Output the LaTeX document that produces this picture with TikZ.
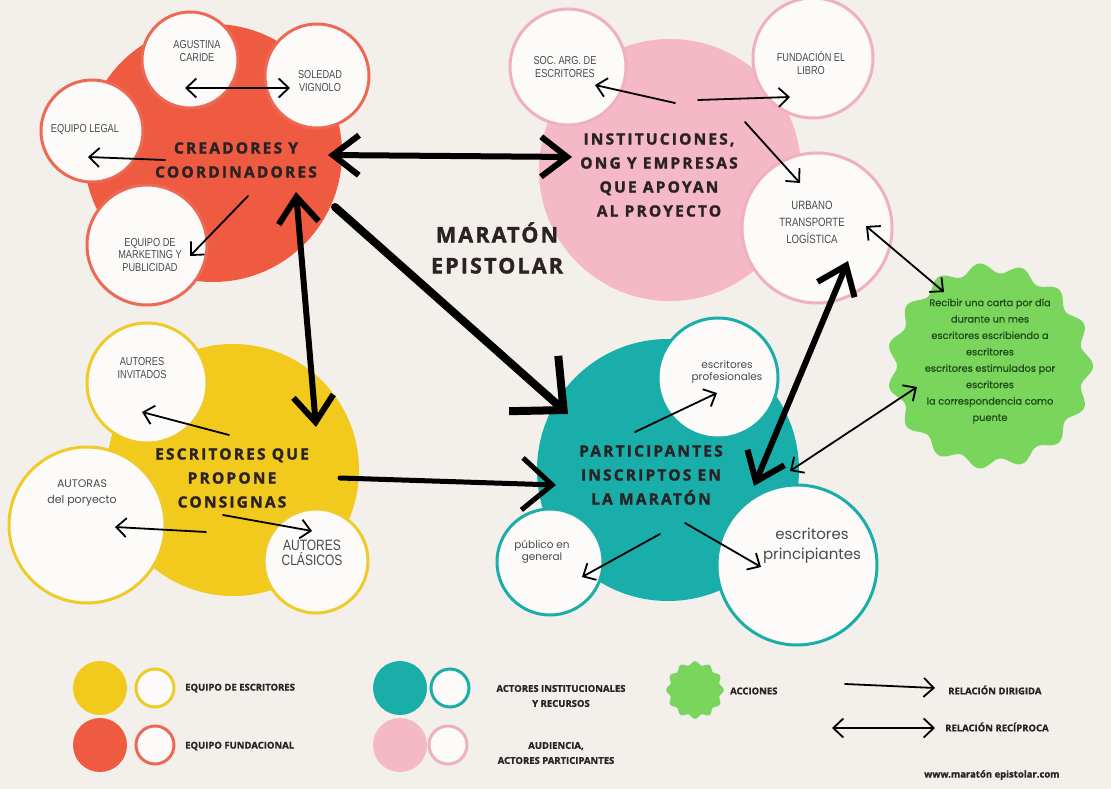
\documentclass[tikz,border=0pt]{standalone}
\usepackage{fontspec}
\usetikzlibrary{arrows.meta}
\setmainfont{Open Sans}
\newfontfamily\ttlfont[LetterSpace=14, BoldFeatures={FakeBold=1.6}]{Open Sans}
\newfontfamily\bigttl[LetterSpace=10, BoldFeatures={FakeBold=1.6}]{Open Sans}
\newfontfamily\smallfont[FakeStretch=0.8]{Liberation Sans}
\newfontfamily\roundfont{Poppins}
\newfontfamily\greenfont[FakeBold=0.5]{Poppins}
\newfontfamily\lgfont[BoldFeatures={FakeBold=1.2}]{Open Sans}
\definecolor{bg}{HTML}{F3EFEA}
\definecolor{cred}{HTML}{EE5B41}
\definecolor{credl}{HTML}{EC6A55}
\definecolor{cpink}{HTML}{F5B8C6}
\definecolor{cpinkl}{HTML}{EFB0C0}
\definecolor{cyel}{HTML}{F2CA1E}
\definecolor{cyell}{HTML}{EFCB2A}
\definecolor{cteal}{HTML}{19AEA9}
\definecolor{ctealy}{HTML}{1BADA8}
\definecolor{cgreen}{HTML}{79D55B}
\definecolor{wfill}{HTML}{FCFBFA}
\definecolor{ttl}{HTML}{2A2224}
\definecolor{grey}{HTML}{4A4A4A}
\definecolor{dgreen}{HTML}{1E4A1A}
\tikzset{
  big/.style={circle, inner sep=0pt},
  sc/.style={circle, draw, line width=3pt, fill=wfill, inner sep=0pt},
  thin/.style={line width=1.8pt, line cap=round, -{Straight Barb[length=10pt,width=19pt]}},
  thinboth/.style={line width=1.8pt, line cap=round, {Straight Barb[length=10pt,width=19pt]}-{Straight Barb[length=10pt,width=19pt]}},
  thickboth/.style={line width=6pt, line cap=round, {Straight Barb[length=26pt,width=40pt]}-{Straight Barb[length=26pt,width=40pt]}},
  ttlnode/.style={align=center, inner sep=0pt, text=ttl, font=\ttlfont\bfseries\fontsize{15.5}{24}\selectfont},
  sm/.style={align=center, inner sep=0pt, text=grey, font=\smallfont\fontsize{11.5}{12.5}\selectfont},
  rd/.style={align=center, inner sep=0pt, text=grey, font=\roundfont\fontsize{10.5}{12}\selectfont},
  lg/.style={align=center, inner sep=0pt, text=ttl, font=\lgfont\bfseries\fontsize{9.5}{15}\selectfont},
}
\begin{document}
\begin{tikzpicture}[x=1pt,y=-1pt]
\useasboundingbox (0,0) rectangle (1111,789);
\fill[bg] (0,0) rectangle (1111,789);

% big circles
\node[big, fill=cred, minimum size=258pt] (crea) at (213,153) {};
\node[big, fill=cpink, minimum size=262pt] (inst) at (670,170) {};
\node[big, fill=cyel, minimum size=252pt] (escr) at (233,470) {};
\node[big, fill=cteal, minimum size=262pt] (part) at (668,470) {};

% small circles
\node[sc, draw=credl, minimum size=96pt] (agus) at (190,60) {};
\node[sc, draw=credl, minimum size=104pt] (sole) at (317,76) {};
\node[sc, draw=credl, minimum size=102pt] (legal) at (92,131) {};
\node[sc, draw=credl, minimum size=120pt] (mkt) at (147,245) {};
\node[sc, draw=cpinkl, minimum size=116pt] (soc) at (568,67) {};
\node[sc, draw=cpinkl, minimum size=120pt] (fund) at (813,58) {};
\node[sc, draw=cpinkl, minimum size=150pt] (urb) at (817,228) {};
\node[sc, draw=cyell, minimum size=120pt] (inv) at (147,383) {};
\node[sc, draw=cyell, minimum size=156pt] (autoras) at (87,525) {};
\node[sc, draw=cyell, minimum size=104pt] (clas) at (316,561) {};
\node[sc, draw=ctealy, minimum size=120pt] (prof) at (718,378) {};
\node[sc, draw=ctealy, minimum size=106pt] (pub) at (550,562) {};
\node[sc, draw=ctealy, minimum size=160pt] (princ) at (797,565) {};

% green blob
\fill[cgreen] plot[domain=0:360, samples=240, smooth] ({990+(98+5*cos(15*\x))*cos(\x)}, {366+(98+5*cos(15*\x))*sin(\x)}) -- cycle;
\node[align=center, inner sep=0pt, text=dgreen, font=\greenfont\fontsize{9.8}{16.4}\selectfont] (acc) at (990,361)
 {Recibir una carta por día\\durante un mes\\escritores escribiendo a\\escritores\\escritores estimulados por\\escritores\\la correspondencia como\\puente};

% small texts
\node[sm] (tagus) at (197,51) {AGUSTINA\\CARIDE};
\node[sm] (tsole) at (320,81) {SOLEDAD\\VIGNOLO};
\node[sm] (tlegal) at (85,130) {EQUIPO LEGAL};
\node[sm] (tmkt) at (150,255) {EQUIPO DE\\MARKETING Y\\PUBLICIDAD};
\node[sm] (tsoc) at (565,67) {SOC. ARG. DE\\ESCRITORES};
\node[sm] (tfund) at (811,63) {FUNDACIÓN EL\\LIBRO};
\node[sm, font=\smallfont\fontsize{12}{17}\selectfont] (turb) at (812,222) {URBANO\\TRANSPORTE\\LOGÍSTICA};
\node[sm] (tinv) at (142,368) {AUTORES\\INVITADOS};
\node[rd, font=\roundfont\fontsize{11}{16}\selectfont] (tautoras) at (82,493) {AUTORAS\\del poryecto};
\node[sm, font=\smallfont\fontsize{15}{15}\selectfont] (tclas) at (312,553) {AUTORES\\CLÁSICOS};
\node[rd] (tprof) at (727,372) {escritores\\profesionales};
\node[rd] (tpub) at (542,552) {público en\\general};
\node[rd, font=\roundfont\fontsize{15}{20}\selectfont] (tprinc) at (812,546) {escritores\\principiantes};

% thin arrows
\coordinate (a1) at (185,88); \coordinate (a2) at (290,88);
\draw[thinboth] (a1) -- (a2);
\coordinate (b1) at (165,160); \coordinate (b2) at (88,157);
\draw[thin] (b1) -- (b2);
\coordinate (c1) at (248,196); \coordinate (c2) at (190,256);
\draw[thin] (c1) -- (c2);
\coordinate (d1) at (675,103); \coordinate (d2) at (595,85);
\draw[thin] (d1) -- (d2);
\coordinate (e1) at (698,100); \coordinate (e2) at (790,97);
\draw[thin] (e1) -- (e2);
\coordinate (f1) at (745,122); \coordinate (f2) at (800,183);
\draw[thin] (f1) -- (f2);
\coordinate (g1) at (866,226); \coordinate (g2) at (944,292);
\draw[thinboth] (g1) -- (g2);
\coordinate (h1) at (790,471); \coordinate (h2) at (917,387);
\draw[thinboth] (h1) -- (h2);
\coordinate (i1) at (229,435); \coordinate (i2) at (142,412);
\draw[thin] (i1) -- (i2);
\coordinate (j1) at (206,532); \coordinate (j2) at (115,527);
\draw[thin] (j1) -- (j2);
\coordinate (k1) at (223,515); \coordinate (k2) at (312,531);
\draw[thin] (k1) -- (k2);
\coordinate (l1) at (635,432); \coordinate (l2) at (717,393);
\draw[thin] (l1) -- (l2);
\coordinate (m1) at (660,534); \coordinate (m2) at (582,577);
\draw[thin] (m1) -- (m2);
\coordinate (n1) at (685,523); \coordinate (n2) at (761,567);
\draw[thin] (n1) -- (n2);

% thick arrows
\coordinate (A1) at (328,155); \coordinate (A2) at (572,157);
\draw[thickboth] (A1) -- (A2);
\coordinate (B1) at (296,192); \coordinate (B2) at (316,427);
\draw[thickboth] (B1) -- (B2);
\coordinate (C1) at (335,207); \coordinate (C2) at (568,414);
\draw[line width=8pt, line cap=round, -{Straight Barb[length=40pt,width=74pt]}] (C1) -- (C2);
\coordinate (D1) at (340,478); \coordinate (D2) at (556,485);
\draw[line width=5pt, line cap=round, -{Straight Barb[length=30pt,width=52pt]}] (D1) -- (D2);
\coordinate (E1) at (848,261); \coordinate (E2) at (754,486);
\draw[thickboth] (E1) -- (E2);

% titles
\node[ttlnode] (tcrea) at (236,160) {CREADORES Y\\COORDINADORES};
\node[ttlnode] (tinst) at (659,175) {INSTITUCIONES,\\ONG Y EMPRESAS\\QUE APOYAN\\AL PROYECTO};
\node[ttlnode] (tescr) at (232,478) {ESCRITORES QUE\\PROPONE\\CONSIGNAS};
\node[ttlnode] (tpart) at (651,475) {PARTICIPANTES\\INSCRIPTOS EN\\LA MARATÓN};
\node[align=center, inner sep=0pt, text=ttl, font=\bigttl\bfseries\fontsize{21.5}{31}\selectfont] (tmar) at (497,248) {MARATÓN\\EPISTOLAR};

% legend
\node[big, fill=cyel, minimum size=54pt] (ly) at (100,688) {};
\node[sc, draw=cyell, minimum size=38pt] (lyw) at (155,688) {};
\node[lg, anchor=west] (lyt) at (185,688) {EQUIPO DE ESCRITORES};
\node[big, fill=cred, minimum size=54pt] (lr) at (100,745) {};
\node[sc, draw=credl, minimum size=38pt] (lrw) at (155,745) {};
\node[lg, anchor=west] (lrt) at (185,746) {EQUIPO FUNDACIONAL};
\node[big, fill=cteal, minimum size=54pt] (lt) at (400,688) {};
\node[sc, draw=ctealy, minimum size=38pt] (ltw) at (450,688) {};
\node[lg] (ltt) at (561,696) {ACTORES INSTITUCIONALES\\Y RECURSOS};
\node[big, fill=cpink, minimum size=54pt] (lp) at (400,745) {};
\node[sc, draw=cpinkl, minimum size=38pt] (lpw) at (448,745) {};
\node[lg] (lpt) at (556,753) {AUDIENCIA,\\ACTORES PARTICIPANTES};
\fill[cgreen] plot[domain=0:360, samples=160, smooth] ({695+(27+1.8*cos(12*\x))*cos(\x)}, {690+(27+1.8*cos(12*\x))*sin(\x)}) -- cycle;
\node[lg, anchor=west] (lgt) at (730,691) {ACCIONES};
\coordinate (r1) at (845,684); \coordinate (r2) at (935,688);
\draw[thin] (r1) -- (r2);
\node[lg, anchor=west] (lrd) at (948,690) {RELACIÓN DIRIGIDA};
\coordinate (s1) at (832,728); \coordinate (s2) at (935,728);
\draw[thinboth] (s1) -- (s2);
\node[lg, anchor=west] (lrr) at (945,727) {RELACIÓN RECÍPROCA};
\node[lg, anchor=west, font=\lgfont\bfseries\fontsize{9.5}{11}\selectfont] (web) at (924,775) {www.maratón epistolar.com};
\end{tikzpicture}
\end{document}
